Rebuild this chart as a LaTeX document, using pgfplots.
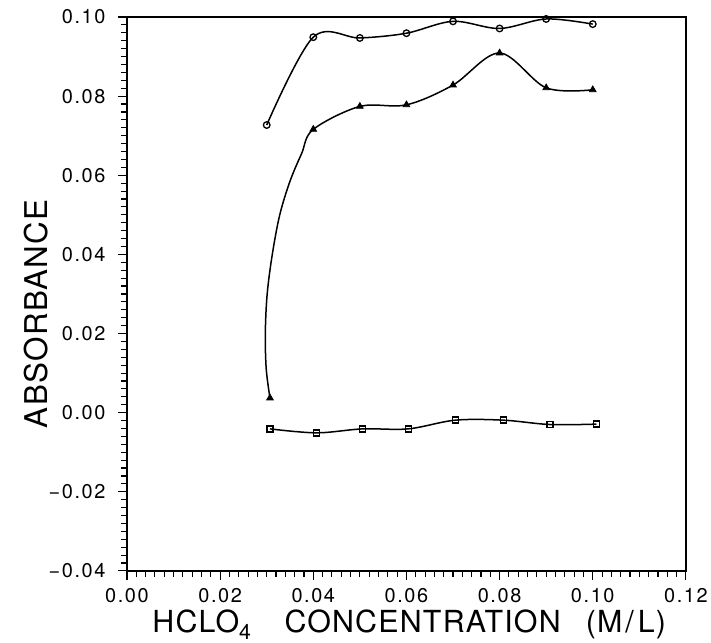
\documentclass[border=0pt]{standalone}
\usepackage{fontspec}
\setmainfont{TeX Gyre Heros}
\usepackage{pgfplots}
\pgfplotsset{compat=1.18}
\newfontfamily\tickfont[LetterSpace=8]{TeX Gyre Heros}
\newfontfamily\labfont[LetterSpace=4]{TeX Gyre Heros}
\begin{document}
\begin{tikzpicture}
\begin{axis}[
  scale only axis, width=559bp, height=554bp,
  xmin=0, xmax=0.12, ymin=-0.04, ymax=0.10,
  xtick={0,0.02,0.04,0.06,0.08,0.10,0.12},
  xticklabels={0.00,0.02,0.04,0.06,0.08,0.10,0.12},
  ytick={-0.04,-0.02,0,0.02,0.04,0.06,0.08,0.10},
  yticklabels={−0.04,−0.02,0.00,0.02,0.04,0.06,0.08,0.10},
  minor x tick num=9, minor y tick num=9,
  tick align=outside, xtick pos=bottom, ytick pos=left,
  major tick length=9bp, minor tick length=6bp,
  axis line style={line width=1.5bp},
  every tick/.style={black, line width=1.1bp},
  tick label style={font=\tickfont\fontsize{20}{22}\selectfont},
  xticklabel style={anchor=north, yshift=-5bp},
  yticklabel style={xshift=-9bp},
  xlabel={HCLO\textsubscript{4}\hspace{33bp}CONCENTRATION\hspace{25bp}(M\hspace{3bp}/\hspace{4bp}L)},
  ylabel={ABSORBANCE},
  xlabel style={font=\labfont\fontsize{30.5}{34}\selectfont, at={(axis description cs:0.505,-0.112)}, anchor=base},
  ylabel style={font=\labfont\fontsize{31.5}{34}\selectfont, at={(axis description cs:-0.143,0.464)}, anchor=base},
  clip=false,
]
% circles
\addplot[black, line width=1.5bp, smooth, tension=0.55, mark=o, mark size=3.3bp,
  mark options={line width=1.3bp, fill=white}]
  coordinates {(0.030,0.0727) (0.040,0.0949) (0.050,0.0947) (0.060,0.0959) (0.070,0.0989) (0.080,0.0971) (0.090,0.0995) (0.100,0.0982)};
% triangles: line as traced on the reference
\addplot[black, line width=1.5bp, smooth, tension=0.55, mark=none]
  coordinates {(0.0307,0.0037) (0.0299,0.011) (0.0297,0.020) (0.0301,0.030) (0.0312,0.040) (0.0328,0.050) (0.0350,0.0585) (0.0375,0.0655) (0.040,0.0716) (0.050,0.0774) (0.060,0.0778) (0.070,0.0828) (0.080,0.0909) (0.090,0.0821) (0.100,0.0816)};
\addplot[black, only marks, mark=triangle*, mark size=3.8bp, mark options={line width=0.8bp}]
  coordinates {(0.0307,0.0037) (0.040,0.0716) (0.050,0.0774) (0.060,0.0778) (0.070,0.0828) (0.080,0.0909) (0.090,0.0821) (0.100,0.0816)};
% squares
\addplot[black, line width=1.5bp, smooth, tension=0.55, mark=square, mark size=3.0bp,
  mark options={line width=1.5bp, fill=white}]
  coordinates {(0.0307,-0.0041) (0.0407,-0.0051) (0.0506,-0.0041) (0.0604,-0.0041) (0.0705,-0.0019) (0.0808,-0.0019) (0.0908,-0.0030) (0.1008,-0.0029)};
\end{axis}
\path[use as bounding box] ([xshift=-127bp,yshift=-68bp]current axis.south west) rectangle ([xshift=25bp,yshift=17bp]current axis.north east);
\end{tikzpicture}
\end{document}
